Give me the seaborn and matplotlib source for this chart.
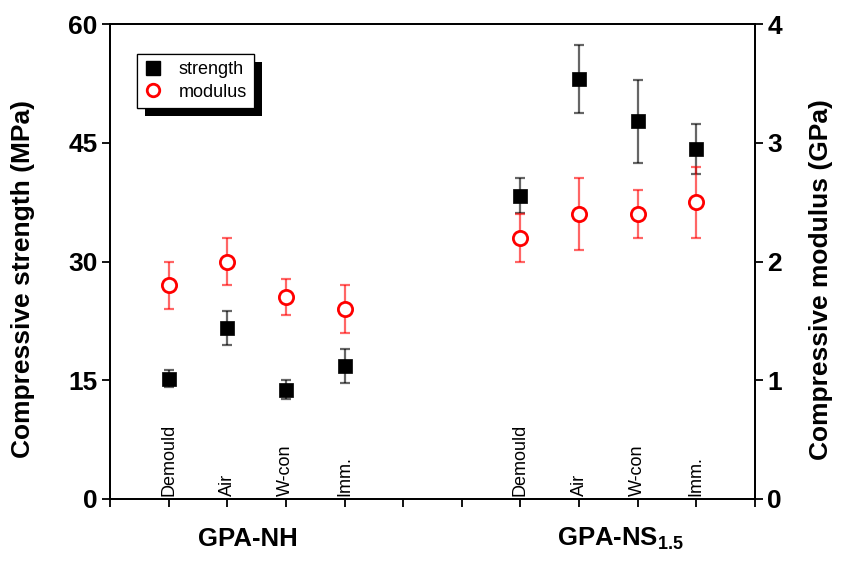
import matplotlib
matplotlib.use("Agg")
import matplotlib.pyplot as plt
import matplotlib.patheffects as pe
from matplotlib.lines import Line2D
import matplotlib.transforms as mtransforms
import seaborn as sns
import pandas as pd

# Curing conditions for each geopolymer mix
conditions = ["Demould", "Air", "W-con", "Imm."]
groups = ["GPA-NH", "GPA-NS$_{1.5}$"]

# Measured compressive strength (MPa) and modulus (GPa), NH then NS1.5
strength_nh = [15.2, 21.6, 13.8, 16.8]
strength_nh_err = [1.1, 2.2, 1.2, 2.1]
strength_ns = [38.3, 53.1, 47.7, 44.2]
strength_ns_err = [2.2, 4.3, 5.2, 3.2]
modulus_nh = [1.80, 2.00, 1.70, 1.60]
modulus_nh_err = [0.20, 0.20, 0.15, 0.20]
modulus_ns = [2.20, 2.40, 2.40, 2.50]
modulus_ns_err = [0.20, 0.30, 0.20, 0.30]

sns.set_style("ticks")
plt.rcParams["font.family"] = ["Liberation Sans", "DejaVu Sans"]
plt.rcParams["mathtext.fontset"] = "custom"
plt.rcParams["mathtext.rm"] = "Liberation Sans:bold"
plt.rcParams["mathtext.it"] = "Liberation Sans:bold"
plt.rcParams["mathtext.bf"] = "Liberation Sans:bold"
for key in ("text.color", "axes.labelcolor", "xtick.color", "ytick.color", "axes.edgecolor"):
    plt.rcParams[key] = "black"

# x slots: NH samples at 1-4, NS1.5 samples at 7-10 on an 0-11 axis
slots = [1, 2, 3, 4, 7, 8, 9, 10]
df = pd.DataFrame({
    "x": slots,
    "condition": conditions * 2,
    "group": [groups[0]] * 4 + [groups[1]] * 4,
    "strength": strength_nh + strength_ns,
    "strength_err": strength_nh_err + strength_ns_err,
    "modulus": modulus_nh + modulus_ns,
    "modulus_err": modulus_nh_err + modulus_ns_err,
})

fig = plt.figure(figsize=(8.41, 5.65), dpi=100)
ax = fig.add_axes([110 / 841, 1 - 499 / 565, 645 / 841, 475 / 565])
ax2 = ax.twinx()

# strength series (left axis)
ax.errorbar(df["x"], df["strength"], yerr=df["strength_err"], fmt="none",
            ecolor=(0, 0, 0, 0.6), elinewidth=1.6, capsize=3.7, capthick=1.6, zorder=2)
sns.scatterplot(data=df, x="x", y="strength", ax=ax, marker="s", s=105,
                color="black", edgecolor="black", linewidth=0.5, zorder=3, legend=False)

# modulus series (right axis)
ax2.errorbar(df["x"], df["modulus"], yerr=df["modulus_err"], fmt="none",
             ecolor=(1, 0, 0, 0.6), elinewidth=1.6, capsize=3.7, capthick=1.6, zorder=2)
sns.scatterplot(data=df, x="x", y="modulus", ax=ax2, marker="o", s=105,
                facecolor="white", edgecolor="red", linewidth=2.0, zorder=3, legend=False)

ax.set_xlim(0, 11)
ax.set_ylim(0, 60)
ax2.set_ylim(0, 4)
ax.set_xticks(range(12))
ax.set_xticklabels([])
ax.set_yticks([0, 15, 30, 45, 60])
ax2.set_yticks([0, 1, 2, 3, 4])
ax.set_xlabel("")

for a in (ax, ax2):
    for sp in a.spines.values():
        sp.set_visible(True)
        sp.set_linewidth(1.3)
        sp.set_color("black")

ax.tick_params(axis="x", direction="out", length=6, width=1.3, top=False, bottom=True)
ax.tick_params(axis="y", direction="out", length=6, width=1.3, left=True, right=False,
               labelsize=19, pad=3)
ax2.tick_params(axis="y", direction="out", length=6, width=1.3, right=True, left=False,
                labelsize=19, pad=3)
for lab in ax.get_yticklabels() + ax2.get_yticklabels():
    lab.set_fontweight("bold")

ax.set_ylabel("Compressive strength (MPa)", fontsize=19, fontweight="bold")
ax2.set_ylabel("Compressive modulus (GPa)", fontsize=19, fontweight="bold")
ax.yaxis.set_label_coords(-0.116, 0.463)
ax2.yaxis.set_label_coords(1.083, 0.463)

# condition names written upright just above the x axis
trans = mtransforms.blended_transform_factory(ax.transData, ax.transAxes)
for xpos, cond in zip(df["x"], df["condition"]):
    ax.text(xpos, 0.006, cond, rotation=90, ha="center", va="bottom",
            fontsize=13, transform=trans)

# mix names below the axis
ax.text(2.35, -0.085, groups[0], ha="center", va="center", fontsize=18.5,
        fontweight="bold", transform=trans)
ax.text(8.7, -0.085, groups[1], ha="center", va="center", fontsize=18.5,
        fontweight="bold", transform=trans)

handles = [
    Line2D([], [], marker="s", linestyle="none", color="black", markersize=10),
    Line2D([], [], marker="o", linestyle="none", markerfacecolor="white",
           markeredgecolor="red", markeredgewidth=2, markersize=9),
]
leg = ax2.legend(handles, ["strength", "modulus"], loc="upper left",
                 bbox_to_anchor=(0.042, 0.937), borderaxespad=0, fontsize=13,
                 frameon=True, fancybox=False, handlelength=1.0, handletextpad=0.9,
                 borderpad=0.4, labelspacing=0.3)
frame = leg.get_frame()
frame.set_edgecolor("black")
frame.set_linewidth(0.9)
frame.set_alpha(1)
frame.set_path_effects([pe.withSimplePatchShadow(offset=(6, -6), shadow_rgbFace="black",
                                                 alpha=1.0), pe.Normal()])

fig.savefig("out.png", dpi=100)
